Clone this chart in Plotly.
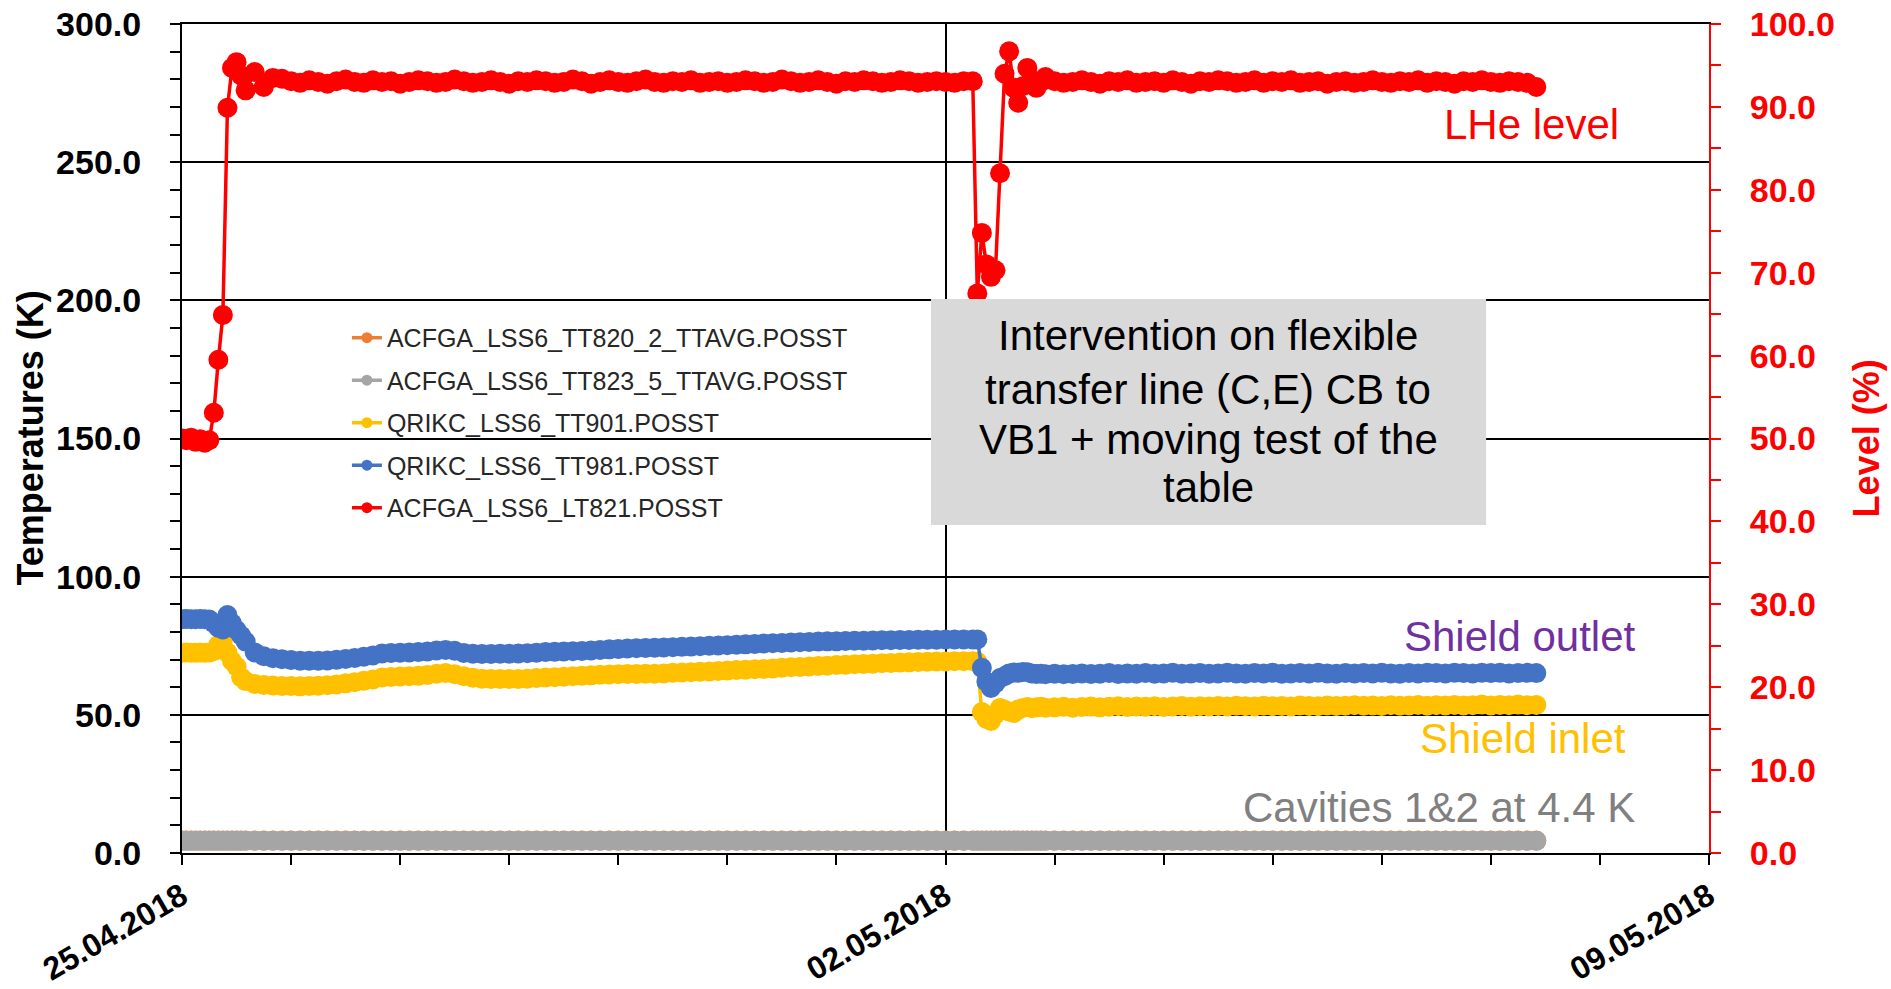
import pandas as pd
import plotly.graph_objects as go

# ---------------- data ----------------
start = "2018-04-25 00:00"
hours = [
    0, 1, 2, 3, 4, 5, 6, 7, 8, 9, 10, 11, 12, 13, 14, 16, 18, 20,
    22, 24, 26, 28, 30, 32, 34, 36, 38, 40,
    42, 44, 46, 48, 50, 52, 54, 56, 58, 60,
    62, 64, 66, 68, 70, 72, 74, 76, 78, 80,
    82, 84, 86, 88, 90, 92, 94, 96, 98, 100,
    102, 104, 106, 108, 110, 112, 114, 116, 118, 120,
    122, 124, 126, 128, 130, 132, 134, 136, 138, 140,
    142, 144, 146, 148, 150, 152, 154, 156, 158, 160,
    162, 164, 166, 168, 170, 172,
    174, 175, 176, 177, 178, 179, 180, 181, 182, 183, 184, 185, 186, 187, 188, 189, 190,
    192, 194, 196, 198, 200, 202, 204, 206, 208, 210,
    212, 214, 216, 218, 220, 222, 224, 226, 228, 230,
    232, 234, 236, 238, 240, 242, 244, 246, 248, 250,
    252, 254, 256, 258, 260, 262, 264, 266, 268, 270,
    272, 274, 276, 278, 280, 282, 284, 286, 288, 290,
    292, 294, 296, 298,
]

tt820_2 = [
    4.5, 4.5, 4.5, 4.5, 4.5, 4.5, 4.5, 4.5, 4.5, 4.5,
    4.5, 4.5, 4.5, 4.5, 4.5, 4.5, 4.5, 4.5, 4.5, 4.5,
    4.5, 4.5, 4.5, 4.5, 4.5, 4.5, 4.5, 4.5, 4.5, 4.5,
    4.5, 4.5, 4.5, 4.5, 4.5, 4.5, 4.5, 4.5, 4.5, 4.5,
    4.5, 4.5, 4.5, 4.5, 4.5, 4.5, 4.5, 4.5, 4.5, 4.5,
    4.5, 4.5, 4.5, 4.5, 4.5, 4.5, 4.5, 4.5, 4.5, 4.5,
    4.5, 4.5, 4.5, 4.5, 4.5, 4.5, 4.5, 4.5, 4.5, 4.5,
    4.5, 4.5, 4.5, 4.5, 4.5, 4.5, 4.5, 4.5, 4.5, 4.5,
    4.5, 4.5, 4.5, 4.5, 4.5, 4.5, 4.5, 4.5, 4.5, 4.5,
    4.5, 4.5, 4.5, 4.5, 4.5, 4.5, 4.5, 4.5, 4.5, 4.5,
    4.5, 4.5, 4.5, 4.5, 4.5, 4.5, 4.5, 4.5, 4.5, 4.5,
    4.5, 4.5, 4.5, 4.5, 4.5, 4.5, 4.5, 4.5, 4.5, 4.5,
    4.5, 4.5, 4.5, 4.5, 4.5, 4.5, 4.5, 4.5, 4.5, 4.5,
    4.5, 4.5, 4.5, 4.5, 4.5, 4.5, 4.5, 4.5, 4.5, 4.5,
    4.5, 4.5, 4.5, 4.5, 4.5, 4.5, 4.5, 4.5, 4.5, 4.5,
    4.5, 4.5, 4.5, 4.5, 4.5, 4.5, 4.5, 4.5, 4.5, 4.5,
    4.5, 4.5, 4.5, 4.5, 4.5,
]

tt823_5 = [
    4.4, 4.4, 4.4, 4.4, 4.4, 4.4, 4.4, 4.4, 4.4, 4.4,
    4.4, 4.4, 4.4, 4.4, 4.4, 4.4, 4.4, 4.4, 4.4, 4.4,
    4.4, 4.4, 4.4, 4.4, 4.4, 4.4, 4.4, 4.4, 4.4, 4.4,
    4.4, 4.4, 4.4, 4.4, 4.4, 4.4, 4.4, 4.4, 4.4, 4.4,
    4.4, 4.4, 4.4, 4.4, 4.4, 4.4, 4.4, 4.4, 4.4, 4.4,
    4.4, 4.4, 4.4, 4.4, 4.4, 4.4, 4.4, 4.4, 4.4, 4.4,
    4.4, 4.4, 4.4, 4.4, 4.4, 4.4, 4.4, 4.4, 4.4, 4.4,
    4.4, 4.4, 4.4, 4.4, 4.4, 4.4, 4.4, 4.4, 4.4, 4.4,
    4.4, 4.4, 4.4, 4.4, 4.4, 4.4, 4.4, 4.4, 4.4, 4.4,
    4.4, 4.4, 4.4, 4.4, 4.4, 4.4, 4.4, 4.4, 4.4, 4.4,
    4.4, 4.4, 4.4, 4.4, 4.4, 4.4, 4.4, 4.4, 4.4, 4.4,
    4.4, 4.4, 4.4, 4.4, 4.4, 4.4, 4.4, 4.4, 4.4, 4.4,
    4.4, 4.4, 4.4, 4.4, 4.4, 4.4, 4.4, 4.4, 4.4, 4.4,
    4.4, 4.4, 4.4, 4.4, 4.4, 4.4, 4.4, 4.4, 4.4, 4.4,
    4.4, 4.4, 4.4, 4.4, 4.4, 4.4, 4.4, 4.4, 4.4, 4.4,
    4.4, 4.4, 4.4, 4.4, 4.4, 4.4, 4.4, 4.4, 4.4, 4.4,
    4.4, 4.4, 4.4, 4.4, 4.4,
]

tt901 = [
    72.5, 72.6, 72.5, 72.5, 72.6, 72.5, 72.6, 73.0, 75.3, 77.1,
    72.5, 69.5, 67.5, 63.6, 62.2, 61.2, 60.8, 60.6,
    60.4, 60.4, 60.3, 60.4, 60.5, 60.7, 61.0, 61.4, 61.8, 62.3,
    62.8, 63.5, 63.7, 63.9, 64.0, 64.1, 64.4, 64.9, 65.1, 64.7,
    64.0, 63.4, 63.1, 63.0, 63.0, 63.0, 63.0, 63.1, 63.3, 63.5,
    63.6, 63.8, 64.0, 64.1, 64.3, 64.5, 64.6, 64.7, 64.8, 64.8,
    64.9, 64.9, 65.0, 65.2, 65.3, 65.4, 65.6, 65.7, 65.9, 66.0,
    66.2, 66.3, 66.5, 66.6, 66.8, 67.0, 67.2, 67.3, 67.5, 67.7,
    67.8, 68.0, 68.1, 68.3, 68.4, 68.5, 68.7, 68.8, 68.9, 69.0,
    69.1, 69.2, 69.3, 69.3, 69.4, 69.4,
    69.4, 69.2, 51.0, 48.5, 47.8, 50.2, 52.5, 51.8, 51.2, 50.7,
    51.9, 52.5, 52.8, 52.4, 52.7, 52.9, 52.6,
    52.7, 52.9, 52.6, 52.8, 53.0, 52.7, 52.9, 53.1, 52.8, 53.0,
    52.9, 53.1, 52.8, 53.0, 53.2, 52.9, 53.1, 53.0, 53.2, 53.0,
    53.3, 53.1, 53.0, 53.3, 53.1, 53.2, 53.0, 53.4, 53.2, 53.1,
    53.4, 53.2, 53.3, 53.5, 53.3, 53.4, 53.2, 53.5, 53.3, 53.4,
    53.6, 53.3, 53.5, 53.4, 53.6, 53.4, 53.5, 53.7, 53.4, 53.6,
    53.5, 53.7, 53.5, 53.6,
]

tt981 = [
    84.6, 84.7, 84.6, 84.6, 84.7, 84.6, 84.5, 83.2, 81.5, 80.9,
    86.1, 83.1, 80.7, 78.7, 76.5, 72.6, 71.2, 70.5,
    70.1, 69.8, 69.6, 69.6, 69.6, 69.7, 69.9, 70.2, 70.6, 71.0,
    71.5, 72.2, 72.4, 72.5, 72.6, 72.7, 72.9, 73.3, 73.5, 73.2,
    72.4, 72.1, 72.0, 72.0, 72.1, 72.1, 72.2, 72.3, 72.5, 72.7,
    72.8, 72.9, 73.0, 73.1, 73.3, 73.5, 73.7, 73.8, 74.0, 74.1,
    74.2, 74.3, 74.4, 74.5, 74.6, 74.7, 74.8, 75.0, 75.1, 75.2,
    75.4, 75.5, 75.6, 75.8, 75.9, 76.0, 76.2, 76.3, 76.4, 76.5,
    76.6, 76.6, 76.7, 76.8, 76.8, 76.9, 77.0, 77.0, 77.1, 77.1,
    77.2, 77.2, 77.2, 77.3, 77.3, 77.3,
    77.3, 77.3, 67.0, 62.0, 59.7, 61.5, 63.3, 64.0, 65.0, 65.3,
    65.2, 65.5, 65.4, 65.0, 64.8, 64.9, 64.7,
    64.9, 64.7, 64.8, 65.0, 64.8, 64.9, 65.1, 64.8, 65.0, 64.9,
    65.1, 64.9, 65.0, 65.2, 64.9, 65.0, 65.1, 64.9, 65.0, 65.2,
    65.0, 64.9, 65.1, 65.0, 65.2, 64.9, 65.0, 65.1, 65.0, 65.2,
    65.0, 64.9, 65.1, 65.0, 65.1, 65.0, 65.2, 65.0, 64.9, 65.1,
    65.0, 65.2, 65.1, 65.0, 65.2, 65.1, 65.0, 65.2, 65.1, 65.2,
    65.0, 65.1, 65.2, 65.1,
]

lt821 = [
    50.0, 49.8, 50.1, 49.6, 49.9, 49.5, 49.8, 53.1, 59.5, 64.9,
    89.9, 94.7, 95.4, 93.8, 92.0, 94.2, 92.4, 93.5,
    93.4, 93.1, 92.9, 93.2, 93.0, 92.8, 93.1, 93.3, 93.0, 92.9,
    93.2, 93.0, 93.1, 92.8, 93.0, 93.2, 93.1, 92.9, 93.0, 93.3,
    93.1, 92.9, 93.0, 93.2, 93.0, 92.8, 93.1, 93.0, 93.2, 93.1,
    92.9, 93.0, 93.3, 93.1, 92.8, 93.0, 93.2, 93.0, 92.9, 93.1,
    93.3, 93.0, 92.9, 93.1, 93.0, 93.2, 92.9, 93.0, 93.1, 92.9,
    93.0, 93.2, 93.1, 92.9, 93.0, 93.3, 93.1, 92.9, 93.0, 93.2,
    93.0, 92.8, 93.1, 93.0, 93.2, 93.1, 92.9, 93.0, 93.2, 93.1,
    92.9, 93.0, 93.1, 93.0, 92.9, 93.1,
    93.1, 67.5, 74.8, 71.0, 69.5, 70.3, 82.0, 94.0, 96.7, 92.3,
    90.5, 92.5, 94.7, 93.3, 92.3, 93.0, 93.6,
    93.1, 92.9, 93.0, 93.2, 93.0, 92.8, 93.1, 93.0, 93.2, 92.9,
    93.0, 93.1, 92.9, 93.2, 93.0, 92.8, 93.1, 93.0, 93.2, 93.1,
    92.9, 93.0, 93.2, 92.9, 93.1, 93.0, 93.2, 92.9, 93.0, 93.1,
    92.8, 93.0, 93.1, 92.9, 93.0, 93.2, 93.0, 92.9, 93.1, 93.0,
    93.2, 92.9, 93.1, 93.0, 92.8, 93.1, 93.0, 93.2, 93.0, 92.9,
    93.1, 93.0, 92.9, 92.4,
]

series_names = [
    "ACFGA_LSS6_TT820_2_TTAVG.POSST",
    "ACFGA_LSS6_TT823_5_TTAVG.POSST",
    "QRIKC_LSS6_TT901.POSST",
    "QRIKC_LSS6_TT981.POSST",
    "ACFGA_LSS6_LT821.POSST",
]
series_colors = ["#ED7D31", "#A5A5A5", "#FFC000", "#4472C4", "#FF0000"]

x_tick_vals = ["2018-04-25", "2018-05-02", "2018-05-09"]

# ---------------- figure ----------------
times = pd.Timestamp(start) + pd.to_timedelta(hours, unit="h")
FONT = "Arial, Liberation Sans, sans-serif"

fig = go.Figure()
values = [tt820_2, tt823_5, tt901, tt981, lt821]
axes = ["y", "y", "y", "y", "y2"]
for name, vals, col, ax in zip(series_names, values, series_colors, axes):
    fig.add_trace(go.Scatter(
        x=times, y=vals, mode="lines+markers", name=name, yaxis=ax,
        line=dict(color=col, width=3.5),
        marker=dict(color=col, size=20),
        showlegend=False,
    ))
# legend entries (small symbols as in the reference legend)
for i, (name, col) in enumerate(zip(series_names, series_colors)):
    fig.add_trace(go.Scatter(
        x=[None], y=[None], mode="lines+markers", name=name,
        legendgroup=f"g{i}",
        line=dict(color=col, width=3.5), marker=dict(color=col, size=11),
        showlegend=True,
    ))

fig.update_layout(
    width=1891, height=989, autosize=False,
    margin=dict(l=182, r=182, t=24, b=136, pad=0),
    paper_bgcolor="white", plot_bgcolor="white",
    font=dict(family=FONT, color="black"),
    showlegend=True,
    legend=dict(
        x=0.108, y=0.649, xanchor="left", yanchor="top",
        bgcolor="rgba(0,0,0,0)", borderwidth=0,
        font=dict(size=25, color="#262626", family=FONT),
        tracegroupgap=7, itemwidth=30,
    ),
    xaxis=dict(
        type="date", automargin=False,
        range=["2018-04-25", "2018-05-09"],
        tickmode="array", tickvals=x_tick_vals,
        tickformat="%d.%m.%Y", tickangle=-30,
        tickfont=dict(size=32, weight="bold", color="black", family=FONT),
        ticks="outside", ticklen=10, tickwidth=2, tickcolor="black",
        ticklabelstandoff=0,
        minor=dict(dtick=86400000, tick0="2018-04-25", ticks="outside",
                   ticklen=10, tickwidth=2, tickcolor="black", showgrid=False),
        showgrid=True, gridcolor="black", gridwidth=2,
        showline=True, linecolor="black", linewidth=2, mirror=True,
        zeroline=False,
    ),
    yaxis=dict(
        automargin=False,
        range=[0, 300], dtick=50, tick0=0, tickformat=".1f",
        tickfont=dict(size=34, weight="bold", color="black", family=FONT),
        ticks="outside", ticklen=10, tickwidth=2, tickcolor="black",
        ticklabelstandoff=22,
        minor=dict(dtick=10, ticks="outside", ticklen=10, tickwidth=2,
                   tickcolor="black", showgrid=False),
        showgrid=True, gridcolor="black", gridwidth=2,
        showline=True, linecolor="black", linewidth=2,
        zeroline=False,
    ),
    yaxis2=dict(
        automargin=False,
        overlaying="y", side="right",
        range=[0, 100], dtick=10, tick0=0, tickformat=".1f",
        tickfont=dict(size=34, weight="bold", color="#FF0000", family=FONT),
        ticks="outside", ticklen=10, tickwidth=2, tickcolor="#FF0000",
        ticklabelstandoff=22,
        minor=dict(dtick=5, ticks="outside", ticklen=10, tickwidth=2,
                   tickcolor="#FF0000", showgrid=False),
        showgrid=False, showline=True, linecolor="#FF0000", linewidth=2,
        zeroline=False,
    ),
)

# axis titles
fig.add_annotation(text="<b>Temperatures (K)</b>", xref="paper", yref="paper",
                   x=-0.0995, y=0.5, xanchor="center", yanchor="middle",
                   textangle=-90, showarrow=False,
                   font=dict(size=36, color="black", family=FONT))
fig.add_annotation(text="<b>Level (%)</b>", xref="paper", yref="paper",
                   x=1.1034, y=0.5, xanchor="center", yanchor="middle",
                   textangle=-90, showarrow=False,
                   font=dict(size=36, color="#FF0000", family=FONT))

# series labels
labels = [
    ("LHe level", "#FF0000", "2018-05-08 04:34", 263.5),
    ("Shield outlet", "#7030A0", "2018-05-08 08:10", 78.5),
    ("Shield inlet", "#FFC000", "2018-05-08 06:14", 41.3),
    ("Cavities 1&2 at 4.4 K", "#808080", "2018-05-08 08:10", 16.3),
]
for txt, col, xx, yy in labels:
    fig.add_annotation(text=txt, x=xx, y=yy, xref="x", yref="y",
                       xanchor="right", yanchor="middle", showarrow=False,
                       font=dict(size=42, color=col, family=FONT))

# intervention box
fig.add_shape(type="rect", xref="x", yref="y",
              x0="2018-05-01 20:48", x1="2018-05-06 22:57",
              y0=118.7, y1=200.5,
              fillcolor="#D9D9D9", line=dict(width=0), layer="above")
box_lines = [
    ("Intervention on flexible", 187.1),
    ("transfer line (C,E) CB to", 167.6),
    ("VB1 + moving test of the", 149.5),
    ("table", 132.1),
]
for txt, yy in box_lines:
    fig.add_annotation(text=txt, x="2018-05-04 09:50", y=yy, xref="x", yref="y",
                       xanchor="center", yanchor="middle", showarrow=False,
                       font=dict(size=42, color="black", family=FONT))

fig.write_html("out.html", config={"displayModeBar": False},
               post_script="document.body.style.margin='0';document.body.style.overflow='hidden';")
